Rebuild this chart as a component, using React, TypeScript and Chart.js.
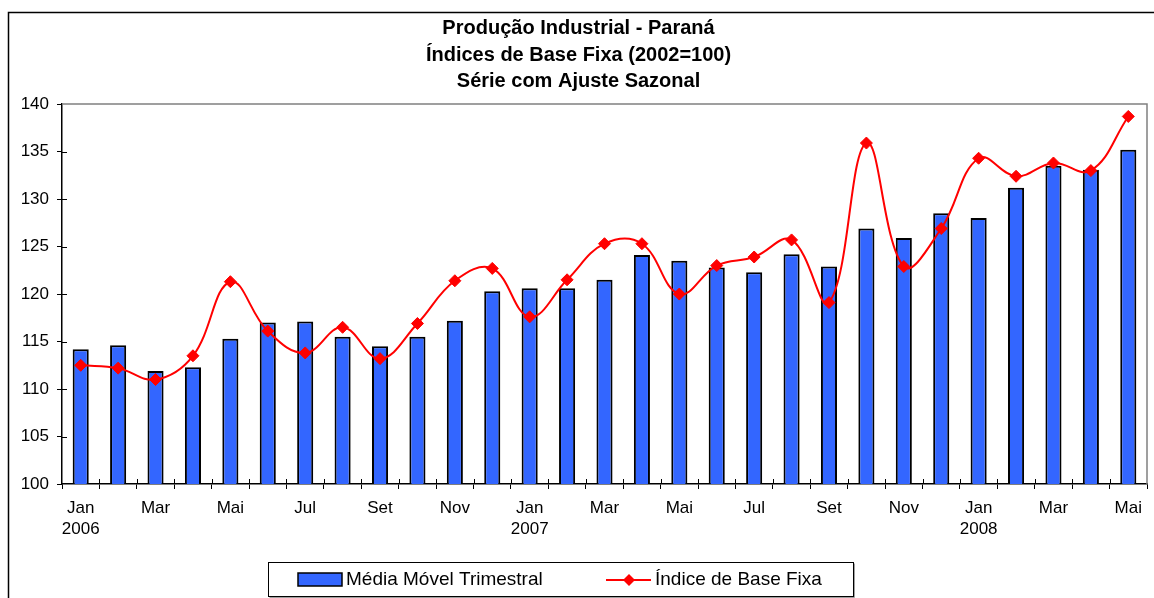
import React, { useEffect, useRef } from 'react';
import { Chart, registerables } from 'chart.js';

Chart.register(...registerables);

const FONT = '"Liberation Sans", Arial, sans-serif';

const categories = [
  'Jan 2006', 'Fev 2006', 'Mar 2006', 'Abr 2006', 'Mai 2006', 'Jun 2006', 'Jul 2006', 'Ago 2006', 'Set 2006', 'Out 2006', 'Nov 2006', 'Dez 2006',
  'Jan 2007', 'Fev 2007', 'Mar 2007', 'Abr 2007', 'Mai 2007', 'Jun 2007', 'Jul 2007', 'Ago 2007', 'Set 2007', 'Out 2007', 'Nov 2007', 'Dez 2007',
  'Jan 2008', 'Fev 2008', 'Mar 2008', 'Abr 2008', 'Mai 2008',
];

const tickMonths = [
  'Jan', '', 'Mar', '', 'Mai', '', 'Jul', '', 'Set', '', 'Nov', '',
  'Jan', '', 'Mar', '', 'Mai', '', 'Jul', '', 'Set', '', 'Nov', '',
  'Jan', '', 'Mar', '', 'Mai',
];

const tickYears = [
  '2006', '', '', '', '', '', '', '', '', '', '', '',
  '2007', '', '', '', '', '', '', '', '', '', '', '',
  '2008', '', '', '', '',
];

const mediaMovelTrimestral = [
  114.2, 114.6, 111.9, 112.3, 115.3, 117.0, 117.1, 115.5, 114.5, 115.5, 117.2, 120.3,
  120.6, 120.6, 121.5, 124.1, 123.5, 122.8, 122.3, 124.2, 122.9, 126.9, 125.9, 128.5,
  128.0, 131.2, 133.5, 133.1, 135.2,
];

const indiceBaseFixa = [
  112.5, 112.2, 111.0, 113.5, 121.3, 116.1, 113.8, 116.5, 113.2, 116.9, 121.4, 122.7,
  117.6, 121.5, 125.3, 125.3, 120.0, 123.0, 123.9, 125.7, 119.1, 135.9, 122.9, 126.9,
  134.3, 132.4, 133.8, 133.0, 138.7,
];

const titleLines = ['Produção Industrial - Paraná', 'Índices de Base Fixa (2002=100)', 'Série com Ajuste Sazonal'];
const seriesLabels = ['Média Móvel Trimestral', 'Índice de Base Fixa'];

const yMin = 100;
const yMax = 140;
const yStep = 5;

const BAR_COLOR = '#3366FF';
const LINE_COLOR = '#FF0000';

const decorPlugin = {
  id: 'decor',
  beforeDraw(chart: any) {
    const ctx = chart.ctx;
    ctx.save();
    ctx.fillStyle = '#ffffff';
    ctx.fillRect(0, 0, chart.width, chart.height);
    ctx.strokeStyle = '#000000';
    ctx.lineWidth = 1.5;
    ctx.beginPath();
    ctx.moveTo(8.5, chart.height);
    ctx.lineTo(8.5, 12.5);
    ctx.lineTo(chart.width, 12.5);
    ctx.stroke();
    ctx.restore();
  },
  beforeDatasetsDraw(chart: any) {
    const { ctx, chartArea: a, scales } = chart;
    ctx.save();
    ctx.strokeStyle = '#808080';
    ctx.lineWidth = 1.5;
    ctx.beginPath();
    ctx.moveTo(a.left, a.top);
    ctx.lineTo(a.right, a.top);
    ctx.lineTo(a.right, a.bottom);
    ctx.stroke();
    ctx.strokeStyle = '#000000';
    ctx.lineWidth = 1;
    ctx.beginPath();
    scales.y.ticks.forEach((t: any) => {
      const py = Math.round(scales.y.getPixelForValue(t.value)) + 0.5;
      if (t.value > yMin && t.value < yMax) {
        ctx.moveTo(a.left, py);
        ctx.lineTo(a.left + 5, py);
      }
    });
    const n = chart.data.labels.length;
    for (let i = 1; i < n; i++) {
      const px = Math.round(scales.x.getPixelForValue(i - 0.5)) + 0.5;
      ctx.moveTo(px, a.bottom);
      ctx.lineTo(px, a.bottom - 5);
    }
    ctx.stroke();
    ctx.restore();
  },
  afterDraw(chart: any) {
    const ctx = chart.ctx;
    const ds = chart.data.datasets;
    const bar = ds.find((d: any) => d.type === 'bar');
    const line = ds.find((d: any) => d.type === 'line');
    ctx.save();
    const bx = 268.5, by = 562.5, bw = 585, bh = 34;
    ctx.strokeStyle = '#a0a0a0';
    ctx.lineWidth = 1;
    ctx.beginPath();
    ctx.moveTo(bx + 1, by + bh + 1);
    ctx.lineTo(bx + bw + 1, by + bh + 1);
    ctx.lineTo(bx + bw + 1, by + 1);
    ctx.stroke();
    ctx.strokeStyle = '#000000';
    ctx.strokeRect(bx, by, bw, bh);
    const cy = 580;
    ctx.fillStyle = bar.backgroundColor;
    ctx.fillRect(298, 573, 44, 13);
    ctx.lineWidth = 1.5;
    ctx.strokeStyle = '#000000';
    ctx.strokeRect(298, 573, 44, 13);
    ctx.font = `19px ${FONT}`;
    ctx.fillStyle = '#000000';
    ctx.textBaseline = 'middle';
    ctx.textAlign = 'left';
    ctx.fillText(bar.label, 346, cy);
    ctx.strokeStyle = line.borderColor;
    ctx.lineWidth = 2;
    ctx.beginPath();
    ctx.moveTo(606, cy);
    ctx.lineTo(651, cy);
    ctx.stroke();
    ctx.fillStyle = line.borderColor;
    ctx.beginPath();
    ctx.moveTo(629, cy - 6);
    ctx.lineTo(635, cy);
    ctx.lineTo(629, cy + 6);
    ctx.lineTo(623, cy);
    ctx.closePath();
    ctx.fill();
    ctx.fillStyle = '#000000';
    ctx.fillText(line.label, 655, cy);
    ctx.restore();
  },
};

export default function App() {
  const canvasRef = useRef<HTMLCanvasElement | null>(null);

  useEffect(() => {
    const canvas = canvasRef.current;
    if (!canvas) return;
    const chart = new Chart(canvas, {
      type: 'bar',
      data: {
        labels: categories,
        datasets: [
          {
            type: 'line',
            label: seriesLabels[1],
            data: indiceBaseFixa,
            borderColor: LINE_COLOR,
            backgroundColor: LINE_COLOR,
            borderWidth: 2,
            tension: 0.4,
            pointStyle: 'rectRot',
            pointRadius: 6,
            pointBackgroundColor: LINE_COLOR,
            pointBorderColor: LINE_COLOR,
            pointBorderWidth: 1,
            order: 0,
          } as any,
          {
            type: 'bar',
            label: seriesLabels[0],
            data: mediaMovelTrimestral,
            backgroundColor: BAR_COLOR,
            borderColor: '#000000',
            borderWidth: 2,
            barPercentage: 0.43,
            categoryPercentage: 1,
            order: 1,
          } as any,
        ],
      },
      options: {
        responsive: false,
        animation: false,
        layout: { padding: { left: 8, right: 5, top: 0, bottom: 54 } },
        plugins: {
          legend: { display: false },
          tooltip: { enabled: false },
          title: {
            display: true,
            text: titleLines,
            color: '#000000',
            font: { family: FONT, size: 20, weight: 'bold', lineHeight: 1.335 },
            padding: { top: 15, bottom: 9 },
          },
        },
        scales: {
          x: {
            offset: true,
            grid: { offset: true, drawOnChartArea: false, tickLength: 5, color: '#000000' },
            border: { color: '#000000', width: 1.5 },
            ticks: {
              autoSkip: false,
              maxRotation: 0,
              color: '#000000',
              padding: 8,
              font: { family: FONT, size: 17, lineHeight: 1.28 },
              callback: (_v: any, i: number) => (tickYears[i] ? [tickMonths[i], tickYears[i]] : tickMonths[i]),
            },
            afterFit: (s: any) => { s.height = 60; },
          },
          y: {
            min: yMin,
            max: yMax,
            grid: { drawOnChartArea: false, tickLength: 5, color: '#000000' },
            border: { color: '#000000', width: 1.5 },
            ticks: {
              stepSize: yStep,
              color: '#000000',
              padding: 8,
              font: { family: FONT, size: 17 },
            },
            afterFit: (s: any) => { s.width = 54; },
          },
        },
      },
      plugins: [decorPlugin],
    } as any);
    return () => chart.destroy();
  }, []);

  return (
    <div style={{ position: 'fixed', left: 0, top: 0, width: 1154, height: 598, background: '#fff' }}>
      <canvas ref={canvasRef} width={1154} height={598} />
    </div>
  );
}
